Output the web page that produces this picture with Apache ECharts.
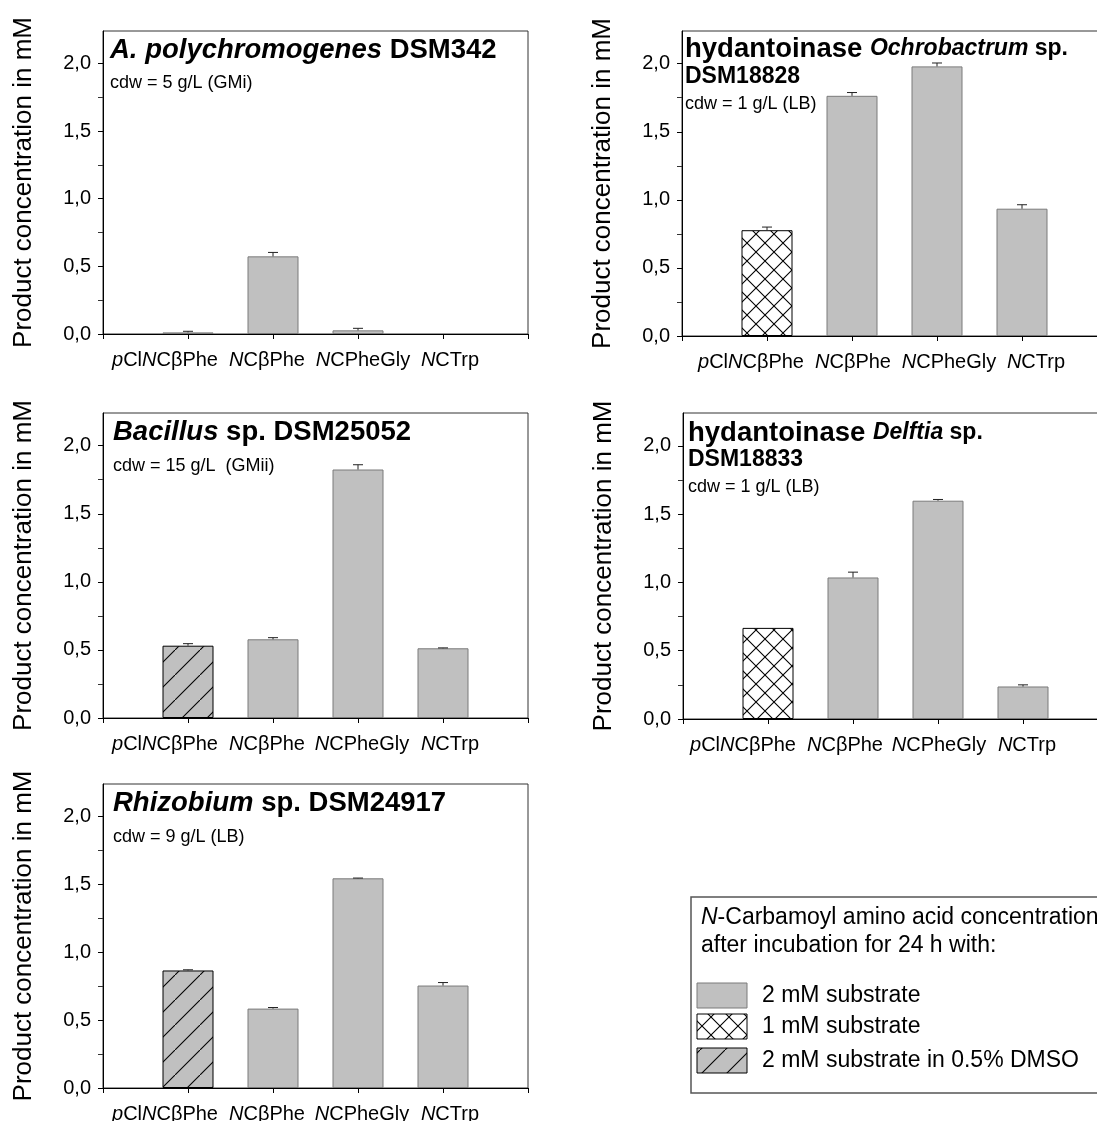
<!DOCTYPE html>
<html>
<head>
<meta charset="utf-8">
<script src="https://cdn.jsdelivr.net/npm/echarts@6/dist/echarts.min.js"></script>
<style>
html,body{margin:0;padding:0;background:#fff;}
#c{width:1097px;height:1121px;}
</style>
</head>
<body>
<div id="c"></div>
<script>
// ---------------- DATA ----------------
const categoryLabels = ['{i|p}Cl{i|N}CβPhe', '{i|N}CβPhe', '{i|N}CPheGly', '{i|N}CTrp'];
const categoryPositions = [1, 2, 3, 4];
const yLabelValues = [0, 0.5, 1.0, 1.5, 2.0];
const yTickValues = [0, 0.25, 0.5, 0.75, 1.0, 1.25, 1.5, 1.75, 2.0];
const yRightTickValues = [0.25, 0.75, 1.25, 1.75];
const yAxisTitle = 'Product concentration in mM';

// A. polychromogenes DSM342
const aPolyValues = [0.012, 0.574, 0.027, 0];
const aPolyErrors = [0.008, 0.029, 0.015, 0];
const aPolyTypes = ['g', 'g', 'g', 'g'];
// hydantoinase Ochrobactrum sp. DSM18828
const ochroValues = [0.777, 1.764, 1.980, 0.935];
const ochroErrors = [0.023, 0.024, 0.025, 0.029];
const ochroTypes = ['x', 'g', 'g', 'g'];
// Bacillus sp. DSM25052
const bacValues = [0.531, 0.578, 1.825, 0.512];
const bacErrors = [0.015, 0.012, 0.035, 0.003];
const bacTypes = ['d', 'g', 'g', 'g'];
// hydantoinase Delftia sp. DSM18833
const delftValues = [0.667, 1.036, 1.598, 0.238];
const delftErrors = [0, 0.039, 0.009, 0.012];
const delftTypes = ['x', 'g', 'g', 'g'];
// Rhizobium sp. DSM24917
const rhizoValues = [0.866, 0.585, 1.545, 0.755];
const rhizoErrors = [0.005, 0.008, 0.002, 0.022];
const rhizoTypes = ['d', 'g', 'g', 'g'];

const panelTitles = [
  ['{bi|A. polychromogenes}{b| DSM342}'],
  ['{b|hydantoinase }{si|Ochrobactrum}{s| sp.}', '{s|DSM18828}'],
  ['{bi|Bacillus}{b| sp. DSM25052}'],
  ['{b|hydantoinase }{si|Delftia}{s| sp.}', '{s|DSM18833}'],
  ['{bi|Rhizobium}{b| sp. DSM24917}']
];
const panelCdw = ['cdw = 5 g/L (GMi)', 'cdw = 1 g/L (LB)', 'cdw = 15 g/L  (GMii)', 'cdw = 1 g/L (LB)', 'cdw = 9 g/L (LB)'];

const legendTitleLines = ['{i|N}-Carbamoyl amino acid concentration', 'after incubation for 24 h with:'];
const legendLabels = ['2 mM substrate', '1 mM substrate', '2 mM substrate in 0.5% DMSO'];
const legendTypes = ['g', 'x', 'd'];

const panelData = [
  {values: aPolyValues, errors: aPolyErrors, types: aPolyTypes},
  {values: ochroValues, errors: ochroErrors, types: ochroTypes},
  {values: bacValues, errors: bacErrors, types: bacTypes},
  {values: delftValues, errors: delftErrors, types: delftTypes},
  {values: rhizoValues, errors: rhizoErrors, types: rhizoTypes}
];

// ---------------- LAYOUT ----------------
const FONT = "'Liberation Sans', Arial, Helvetica, sans-serif";
const YMAX = 2.24;
const layout = [
  {left: 103, top: 31, height: 303, offs: [-23, -6, 5, 7], tx: 110, titleC: [50], cdwC: 83},
  {left: 682, top: 31, height: 305, offs: [-16, 1, 12, 14], tx: 685, titleC: [49, 77], cdwC: 104},
  {left: 103, top: 413, height: 305, offs: [-23, -6, 4, 7], tx: 113, titleC: [432], cdwC: 466},
  {left: 683, top: 413, height: 306, offs: [-25, -8, 1, 4], tx: 688, titleC: [433, 460], cdwC: 487},
  {left: 103, top: 784, height: 304, offs: [-23, -6, 4, 7], tx: 113, titleC: [803], cdwC: 837}
];
const GRID_W = 425;

// ---------------- PATTERNS ----------------
function makeCross() {
  const s = 18, c = document.createElement('canvas');
  c.width = s; c.height = s;
  const g = c.getContext('2d');
  g.fillStyle = '#fff'; g.fillRect(0, 0, s, s);
  g.strokeStyle = '#000'; g.lineWidth = 1.1;
  g.beginPath();
  g.moveTo(-2, -2); g.lineTo(s + 2, s + 2);
  g.moveTo(s + 2, -2); g.lineTo(-2, s + 2);
  g.stroke();
  return c;
}
function makeDiag() {
  const s = 25, c = document.createElement('canvas');
  c.width = s; c.height = s;
  const g = c.getContext('2d');
  g.fillStyle = '#c0c0c0'; g.fillRect(0, 0, s, s);
  g.strokeStyle = '#000'; g.lineWidth = 1.1;
  g.beginPath();
  g.moveTo(-2, s + 2); g.lineTo(s + 2, -2);
  g.stroke();
  return c;
}
const crossPat = {image: makeCross(), repeat: 'repeat'};
const diagPat = {image: makeDiag(), repeat: 'repeat'};
function styleFor(t) {
  if (t === 'x') return {color: crossPat, borderColor: '#000', borderWidth: 1};
  if (t === 'd') return {color: diagPat, borderColor: '#000', borderWidth: 1};
  return {color: '#c0c0c0', borderColor: '#7a7a7a', borderWidth: 1};
}

// ---------------- OPTION ----------------
const grids = [], xAxes = [], yAxes = [], series = [], titles = [];

layout.forEach((L, i) => {
  const D = panelData[i];
  grids.push({left: L.left, top: L.top, width: GRID_W, height: L.height, show: true,
    borderColor: '#333', borderWidth: 1, backgroundColor: 'transparent', containLabel: false, outerBoundsMode: 'none'});

  const rich = {i: {fontStyle: 'italic', fontSize: 20, fontFamily: FONT, color: '#000', lineHeight: 22}};
  L.offs.forEach((o, k) => { rich['sp' + k] = {width: Math.max(1, Math.abs(o) * 2), fontSize: 20, lineHeight: 22}; });

  xAxes.push({
    gridIndex: i, type: 'value', min: 0, max: 5, interval: 1,
    axisLine: {show: true, onZero: false, lineStyle: {color: '#000', width: 1}},
    axisTick: {show: true, length: 5, lineStyle: {color: '#000'}},
    splitLine: {show: false},
    axisLabel: {
      show: true, margin: 15, fontSize: 20, fontFamily: FONT, color: '#000', lineHeight: 22,
      rich: rich,
      formatter: function (v) {
        const k = categoryPositions.indexOf(Math.round(v));
        if (k < 0) return '';
        const o = L.offs[k];
        const sp = '{sp' + k + '| }';
        return o < 0 ? categoryLabels[k] + sp : sp + categoryLabels[k];
      }
    }
  });

  yAxes.push({
    gridIndex: i, type: 'value', min: 0, max: YMAX, interval: 0.5, position: 'left',
    name: yAxisTitle, nameLocation: 'middle', nameGap: 66, nameRotate: 90,
    nameTextStyle: {fontSize: 26, fontFamily: FONT, color: '#000'},
    axisLine: {show: true, onZero: false, lineStyle: {color: '#000', width: 1}},
    axisTick: {show: true, length: 5, customValues: yTickValues, lineStyle: {color: '#000'}},
    splitLine: {show: false},
    axisLabel: {show: true, margin: 12, fontSize: 20, fontFamily: FONT, color: '#000',
      customValues: yLabelValues,
      formatter: v => v.toFixed(1).replace('.', ',')}
  });
  yAxes.push({
    gridIndex: i, type: 'value', min: 0, max: YMAX, position: 'right',
    axisLine: {show: false},
    axisTick: {show: true, inside: true, length: 5, customValues: yRightTickValues, lineStyle: {color: '#333'}},
    axisLabel: {show: false},
    splitLine: {show: false}
  });

  const barData = [];
  D.values.forEach((v, k) => {
    if (v > 0) barData.push({value: [categoryPositions[k], v], itemStyle: styleFor(D.types[k])});
  });
  series.push({
    type: 'bar', xAxisIndex: i, yAxisIndex: i * 2, barWidth: 51, data: barData,
    emphasis: {disabled: true}, animation: false, z: 2
  });
  const errData = [];
  D.values.forEach((v, k) => { if (D.errors[k] > 0) errData.push([categoryPositions[k], v, D.errors[k]]); });
  series.push({
    type: 'custom', xAxisIndex: i, yAxisIndex: i * 2, data: errData, z: 3, animation: false,
    encode: {x: 0, y: 1},
    renderItem: function (params, api) {
      const x = api.value(0), v = api.value(1), e = api.value(2);
      const p0 = api.coord([x, v]), p1 = api.coord([x, v + e]);
      const st = {stroke: '#222', lineWidth: 1};
      return {type: 'group', children: [
        {type: 'line', shape: {x1: p0[0], y1: p0[1], x2: p1[0], y2: p1[1]}, style: st},
        {type: 'line', shape: {x1: p1[0] - 5, y1: p1[1], x2: p1[0] + 5, y2: p1[1]}, style: st}
      ]};
    }
  });

  const tRich = {
    b: {fontSize: 27.5, fontWeight: 'bold', fontFamily: FONT, color: '#000', lineHeight: 30},
    bi: {fontSize: 27.5, fontWeight: 'bold', fontStyle: 'italic', fontFamily: FONT, color: '#000', lineHeight: 30},
    s: {fontSize: 23, fontWeight: 'bold', fontFamily: FONT, color: '#000', lineHeight: 30},
    si: {fontSize: 23, fontWeight: 'bold', fontStyle: 'italic', fontFamily: FONT, color: '#000', lineHeight: 30}
  };
  panelTitles[i].forEach((t, j) => {
    titles.push({text: t, left: L.tx, top: L.titleC[j] - 15, padding: 0,
      textStyle: {rich: tRich, fontSize: 23, fontFamily: FONT, lineHeight: 30}});
  });
  titles.push({text: panelCdw[i], left: L.tx, top: L.cdwC - 10, padding: 0,
    textStyle: {fontSize: 18, fontWeight: 'normal', fontFamily: FONT, color: '#000', lineHeight: 20}});
});

// legend (graphic)
const LG = {x: 691, y: 897, w: 440, h: 196, titleC: [918, 946], swX: 697, swW: 50, swY: [983, 1014, 1048], swH: 25, textX: 762, textC: [996, 1027, 1061]};
const graphics = [
  {type: 'rect', shape: {x: LG.x, y: LG.y, width: LG.w, height: LG.h}, style: {fill: 'none', stroke: '#555', lineWidth: 1.5}, z: 10}
];
legendTitleLines.forEach((t, j) => {
  graphics.push({type: 'text', x: 701, y: LG.titleC[j], z: 10,
    style: {text: t, fontSize: 23, fontFamily: FONT, fill: '#000', verticalAlign: 'middle', align: 'left',
      rich: {i: {fontSize: 23, fontFamily: FONT, fontStyle: 'italic', fill: '#000'}}}});
});
legendLabels.forEach((t, j) => {
  const st = styleFor(legendTypes[j]);
  graphics.push({type: 'rect', shape: {x: LG.swX, y: LG.swY[j], width: LG.swW, height: LG.swH}, z: 10,
    style: {fill: st.color, stroke: legendTypes[j] === 'g' ? '#7a7a7a' : '#000', lineWidth: 1}});
  graphics.push({type: 'text', x: LG.textX, y: LG.textC[j], z: 10,
    style: {text: t, fontSize: 23, fontFamily: FONT, fill: '#000', verticalAlign: 'middle', align: 'left'}});
});

const chart = echarts.init(document.getElementById('c'), null, {renderer: 'canvas'});
chart.setOption({
  backgroundColor: '#fff',
  animation: false,
  title: titles,
  grid: grids,
  xAxis: xAxes,
  yAxis: yAxes,
  series: series,
  graphic: graphics
});
</script>
</body>
</html>
